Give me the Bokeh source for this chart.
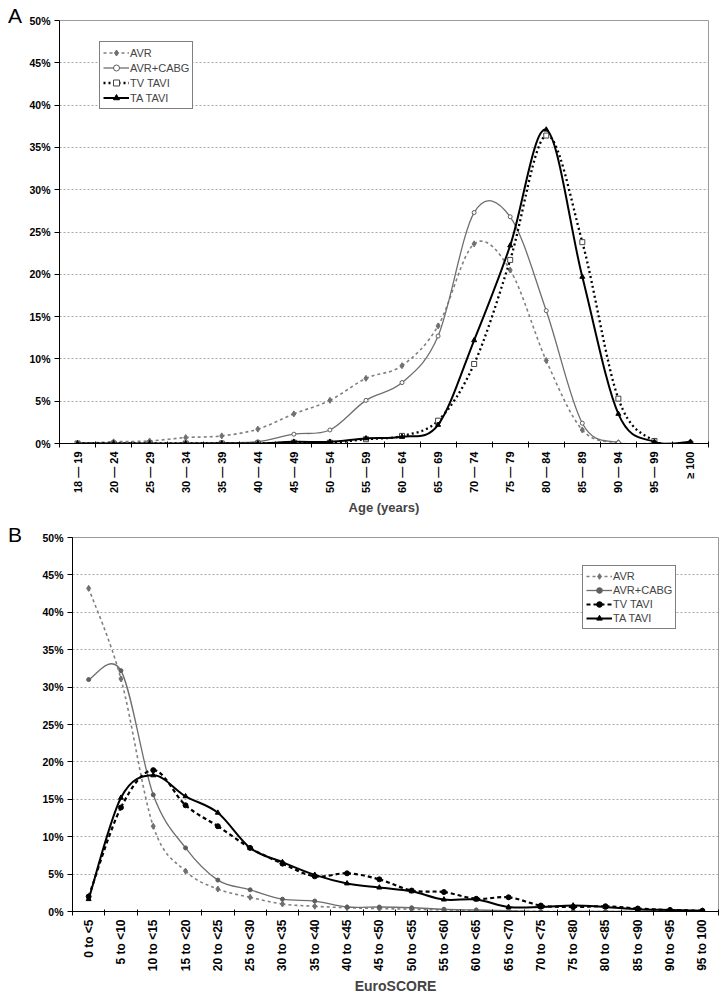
import math
from bokeh.plotting import figure
from bokeh.models import FixedTicker, Legend, LegendItem, Range1d, Div
from bokeh.embed import file_html
from bokeh.resources import INLINE

# ---------------- data ----------------
age_groups = ["18 \u2014 19", "20 \u2014 24", "25 \u2014 29", "30 \u2014 34", "35 \u2014 39",
              "40 \u2014 44", "45 \u2014 49", "50 \u2014 54", "55 \u2014 59", "60 \u2014 64",
              "65 \u2014 69", "70 \u2014 74", "75 \u2014 79", "80 \u2014 84", "85 \u2014 89",
              "90 \u2014 94", "95 \u2014 99", "\u2265 100"]
avr_age = [0.0, 0.2, 0.3, 0.7, 0.9, 1.7, 3.5, 5.1, 7.7, 9.2, 13.9, 23.6, 20.5, 9.8, 1.6, 0.1, 0.0, 0.0]
avrcabg_age = [0.0, 0.0, 0.0, 0.0, 0.1, 0.2, 1.1, 1.6, 5.1, 7.2, 12.7, 27.3, 26.8, 15.7, 2.4, 0.1, 0.0, 0.0]
tvtavi_age = [0.0, 0.0, 0.0, 0.0, 0.0, 0.0, 0.1, 0.1, 0.5, 0.9, 2.7, 9.4, 21.7, 36.4, 23.8, 5.3, 0.3, 0.0]
tatavi_age = [0.0, 0.0, 0.0, 0.0, 0.0, 0.0, 0.2, 0.2, 0.6, 0.8, 2.2, 12.2, 23.4, 37.1, 19.7, 3.5, 0.2, 0.2]

score_groups = ["0 to <5", "5 to <10", "10 to <15", "15 to <20", "20 to <25", "25 to <30",
                "30 to <35", "35 to <40", "40 to <45", "45 to <50", "50 to <55", "55 to <60",
                "60 to <65", "65 to <70", "70 to <75", "75 to <80", "80 to <85", "85 to <90",
                "90 to <95", "95 to 100"]
avr_score = [43.2, 31.1, 11.4, 5.4, 3.0, 1.9, 1.0, 0.7, 0.5, 0.4, 0.3, 0.2, 0.1, 0.1, 0.0, 0.0, 0.0, 0.0, 0.0, 0.0]
avrcabg_score = [31.0, 32.2, 15.6, 8.5, 4.2, 2.9, 1.65, 1.4, 0.6, 0.6, 0.5, 0.3, 0.2, 0.1, 0.0, 0.0, 0.0, 0.0, 0.0, 0.0]
tvtavi_score = [2.0, 13.9, 18.9, 14.2, 11.4, 8.5, 6.4, 4.7, 5.1, 4.3, 2.8, 2.6, 1.7, 1.9, 0.8, 0.6, 0.7, 0.4, 0.2, 0.1]
tatavi_score = [1.65, 15.2, 18.2, 15.4, 13.2, 8.5, 6.6, 4.9, 3.75, 3.2, 2.7, 1.6, 1.6, 0.6, 0.6, 0.8, 0.6, 0.3, 0.2, 0.1]

series_names = ["AVR", "AVR+CABG", "TV TAVI", "TA TAVI"]
y_ticks = [0, 5, 10, 15, 20, 25, 30, 35, 40, 45, 50]

FONT = "Liberation Sans"


def smooth_segments(xs, ys):
    """Cubic Bezier pieces through the data points (Excel-style smoothed line)."""
    n = len(xs)
    out = dict(x0=[], y0=[], x1=[], y1=[], cx0=[], cy0=[], cx1=[], cy1=[])
    for i in range(n - 1):
        a = i - 1 if i > 0 else i
        d = i + 2 if i + 2 < n else i + 1
        out["x0"].append(xs[i]); out["y0"].append(ys[i])
        out["x1"].append(xs[i + 1]); out["y1"].append(ys[i + 1])
        out["cx0"].append(xs[i] + (xs[i + 1] - xs[a]) / 6.0)
        out["cy0"].append(ys[i] + (ys[i + 1] - ys[a]) / 6.0)
        out["cx1"].append(xs[i + 1] - (xs[d] - xs[i]) / 6.0)
        out["cy1"].append(ys[i + 1] - (ys[d] - ys[i]) / 6.0)
    return out


def make_panel(cats, series, styles, fw, fh, bl, bt, bb, br,
               xlabel, xlabel_size, xtick_size, legend_xy, item_h):
    n = len(cats)
    p = figure(frame_width=fw, frame_height=fh, output_backend="svg", toolbar_location=None,
               x_range=Range1d(0, n), y_range=Range1d(0, 50),
               min_border_left=bl, min_border_top=bt, min_border_bottom=bb, min_border_right=br)
    p.outline_line_color = "#9a9a9a"
    p.outline_line_width = 1
    p.background_fill_color = "white"
    p.border_fill_color = "white"
    p.xgrid.visible = False
    p.ygrid.grid_line_color = "#a8a8a8"
    p.ygrid.grid_line_dash = "2 2"
    p.ygrid.grid_line_width = 1

    xs = [i + 0.5 for i in range(n)]
    p.xaxis.ticker = FixedTicker(ticks=xs, minor_ticks=list(range(n + 1)))
    p.xaxis.major_label_overrides = {x: c for x, c in zip(xs, cats)}
    p.xaxis.major_label_orientation = math.pi / 2
    p.xaxis.major_tick_out = 0
    p.xaxis.major_tick_in = 0
    p.xaxis.minor_tick_out = 4
    p.xaxis.minor_tick_in = 2
    p.xaxis.minor_tick_line_color = "black"
    p.xaxis.major_label_text_font = FONT
    p.xaxis.major_label_text_font_style = "bold"
    p.xaxis.major_label_text_font_size = xtick_size
    p.xaxis.major_label_text_color = "black"
    p.xaxis.major_label_standoff = 4
    p.xaxis.axis_label = xlabel
    p.xaxis.axis_label_text_font = FONT
    p.xaxis.axis_label_text_font_style = "bold"
    p.xaxis.axis_label_text_font_size = xlabel_size
    p.xaxis.axis_label_standoff = 4
    p.xaxis.axis_line_color = "black"

    p.yaxis.ticker = FixedTicker(ticks=y_ticks, minor_ticks=[])
    p.yaxis.major_label_overrides = {t: f"{t}%" for t in y_ticks}
    p.yaxis.major_tick_out = 5
    p.yaxis.major_tick_in = 0
    p.yaxis.major_label_text_font = FONT
    p.yaxis.major_label_text_font_style = "bold"
    p.yaxis.major_label_text_font_size = "10.5px"
    p.yaxis.major_label_text_color = "black"
    p.yaxis.major_label_standoff = 4
    p.yaxis.axis_line_color = "black"

    items = []
    for name, ys, st in zip(series_names, series, styles):
        seg = smooth_segments(xs, ys)
        br_ = p.bezier(x0="x0", y0="y0", x1="x1", y1="y1", cx0="cx0", cy0="cy0",
                       cx1="cx1", cy1="cy1", source=seg,
                       line_color=st["color"], line_width=st["width"], line_dash=st["dash"])
        sc = p.scatter(xs, ys, marker=st["marker"], size=st["size"],
                       line_color=st["mcolor"], fill_color=st["fill"], line_width=1)
        items.append(LegendItem(label=name, renderers=[br_, sc]))

    leg = Legend(items=items, location=legend_xy, border_line_color="black",
                 border_line_width=1, background_fill_alpha=1.0,
                 label_text_font=FONT, label_text_font_size="11px",
                 glyph_width=26, glyph_height=item_h, label_height=item_h, label_standoff=1,
                 spacing=0, padding=3, margin=0)
    p.add_layout(leg)
    return p


styles_a = [
    dict(color="#808080", width=1.6, dash="3 3", marker="diamond", size=6, mcolor="#707070", fill="#707070"),
    dict(color="#6e6e6e", width=1.3, dash="solid", marker="circle", size=4, mcolor="#5e5e5e", fill="white"),
    dict(color="black", width=2.3, dash="2 3", marker="square", size=5, mcolor="#444444", fill="white"),
    dict(color="black", width=2.0, dash="solid", marker="triangle", size=5, mcolor="black", fill="black"),
]
styles_b = [
    dict(color="#808080", width=1.6, dash="3 3", marker="diamond", size=6, mcolor="#707070", fill="#707070"),
    dict(color="#6e6e6e", width=1.3, dash="solid", marker="circle", size=4, mcolor="#5e5e5e", fill="#5e5e5e"),
    dict(color="black", width=2.2, dash="4 3", marker="circle", size=5, mcolor="black", fill="black"),
    dict(color="black", width=2.0, dash="solid", marker="triangle", size=5, mcolor="black", fill="black"),
]

pa = make_panel(age_groups, [avr_age, avrcabg_age, tvtavi_age, tatavi_age], styles_a,
                fw=649, fh=423, bl=59, bt=20, bb=77, br=12,
                xlabel="Age (years)", xlabel_size="13px", xtick_size="11px",
                legend_xy=(40, 423 - 23 - 66), item_h=15)
pb = make_panel(score_groups, [avr_score, avrcabg_score, tvtavi_score, tatavi_score], styles_b,
                fw=646, fh=374, bl=72, bt=17, bb=82, br=2,
                xlabel="EuroSCORE", xlabel_size="14px", xtick_size="12px",
                legend_xy=(510, 374 - 30 - 62), item_h=14)

letter_style = {"position": "absolute", "left": "3px", "font-family": "Liberation Sans",
                "font-size": "21px", "color": "black", "line-height": "1"}
div_a = Div(text="A", styles=dict(letter_style, top="0px"))
div_b = Div(text="B", styles=dict(letter_style, top="519px"))

open("out.html", "w").write(file_html([pa, pb, div_a, div_b], INLINE))
